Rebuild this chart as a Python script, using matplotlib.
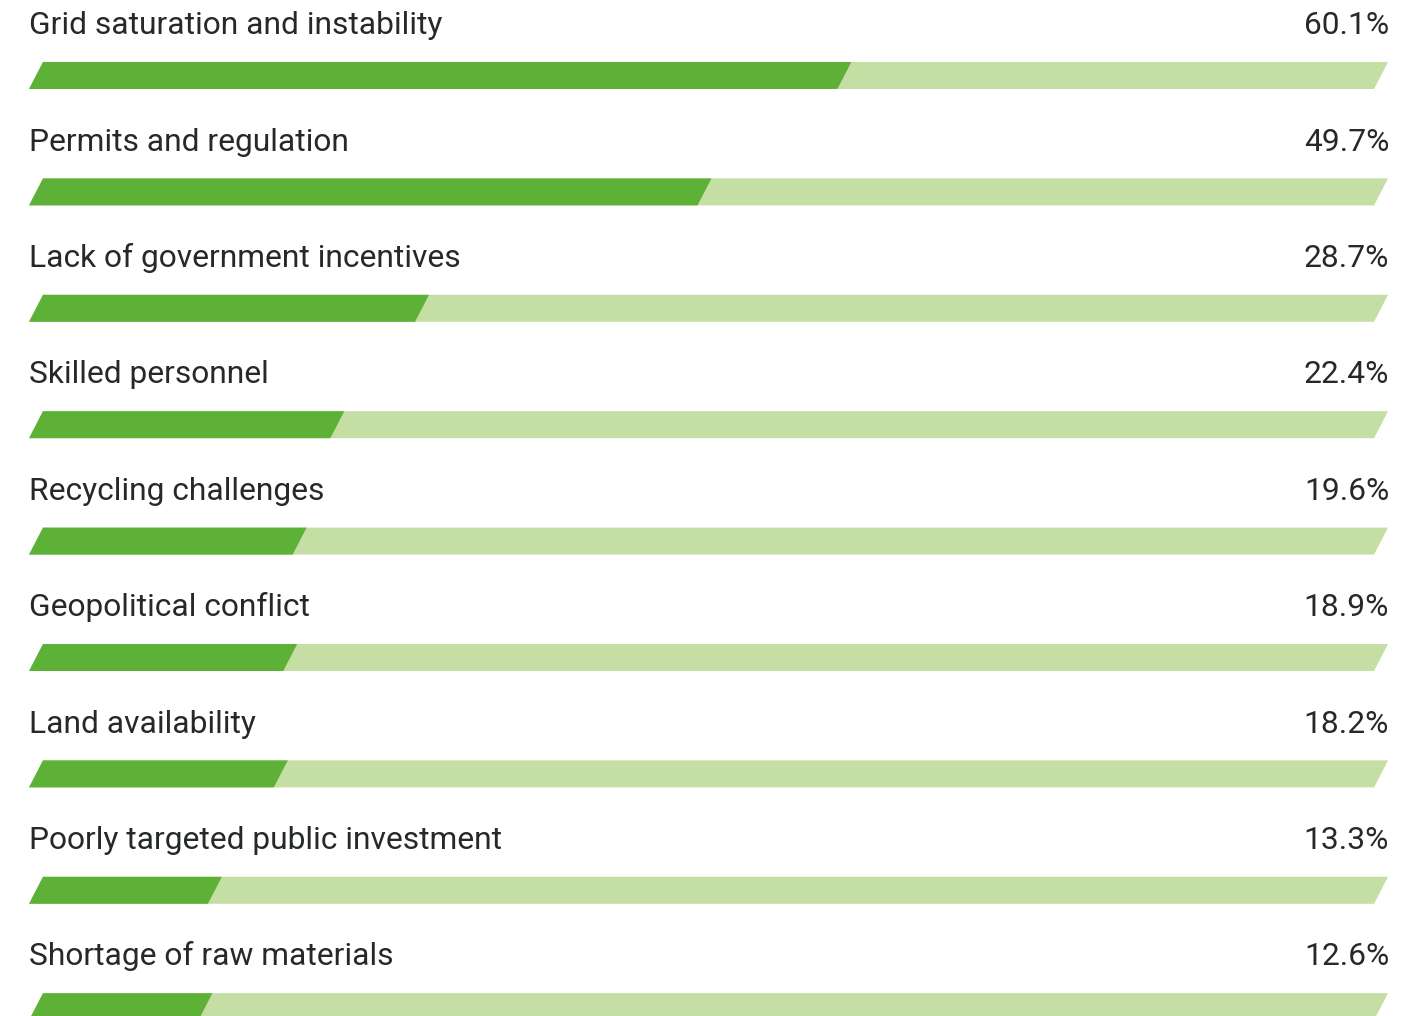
import matplotlib.pyplot as plt
from matplotlib.patches import Polygon

plt.rcParams['font.family'] = ['Roboto', 'DejaVu Sans']

categories = [
    'Grid saturation and instability',
    'Permits and regulation',
    'Lack of government incentives',
    'Skilled personnel',
    'Recycling challenges',
    'Geopolitical conflict',
    'Land availability',
    'Poorly targeted public investment',
    'Shortage of raw materials',
]
shares = [60.1, 49.7, 28.7, 22.4, 19.6, 18.9, 18.2, 13.3, 12.6]

dark_green = '#5db136'
light_green = '#c5dea3'
text_color = '#262a26'

fig = plt.figure(figsize=(14.23, 10.16), dpi=100)
ax = fig.add_axes([0, 0, 1, 1])
ax.set_xlim(-2.677, 103.12)
ax.set_ylim(8.080, -0.6486)
ax.axis('off')

half_h = 0.116   # half bar height in row units
slant = 0.52     # horizontal half-offset of the slanted ends


def skew_bar(x0, x1, yc, color):
    pts = [(x0 - slant, yc + half_h), (x0 + slant, yc - half_h),
           (x1 + slant, yc - half_h), (x1 - slant, yc + half_h)]
    ax.add_patch(Polygon(pts, closed=True, facecolor=color, edgecolor='none'))


for i, (name, val) in enumerate(zip(categories, shares)):
    skew_bar(0, 100, i, light_green)
    skew_bar(0, val, i, dark_green)
    ax.text(-0.52, i - 0.355, name, fontsize=22.9, color=text_color,
            ha='left', va='baseline')
    ax.text(100.6, i - 0.355, f'{val:.1f}%', fontsize=22.9, color=text_color,
            ha='right', va='baseline')

fig.savefig('out.png', dpi=100)
